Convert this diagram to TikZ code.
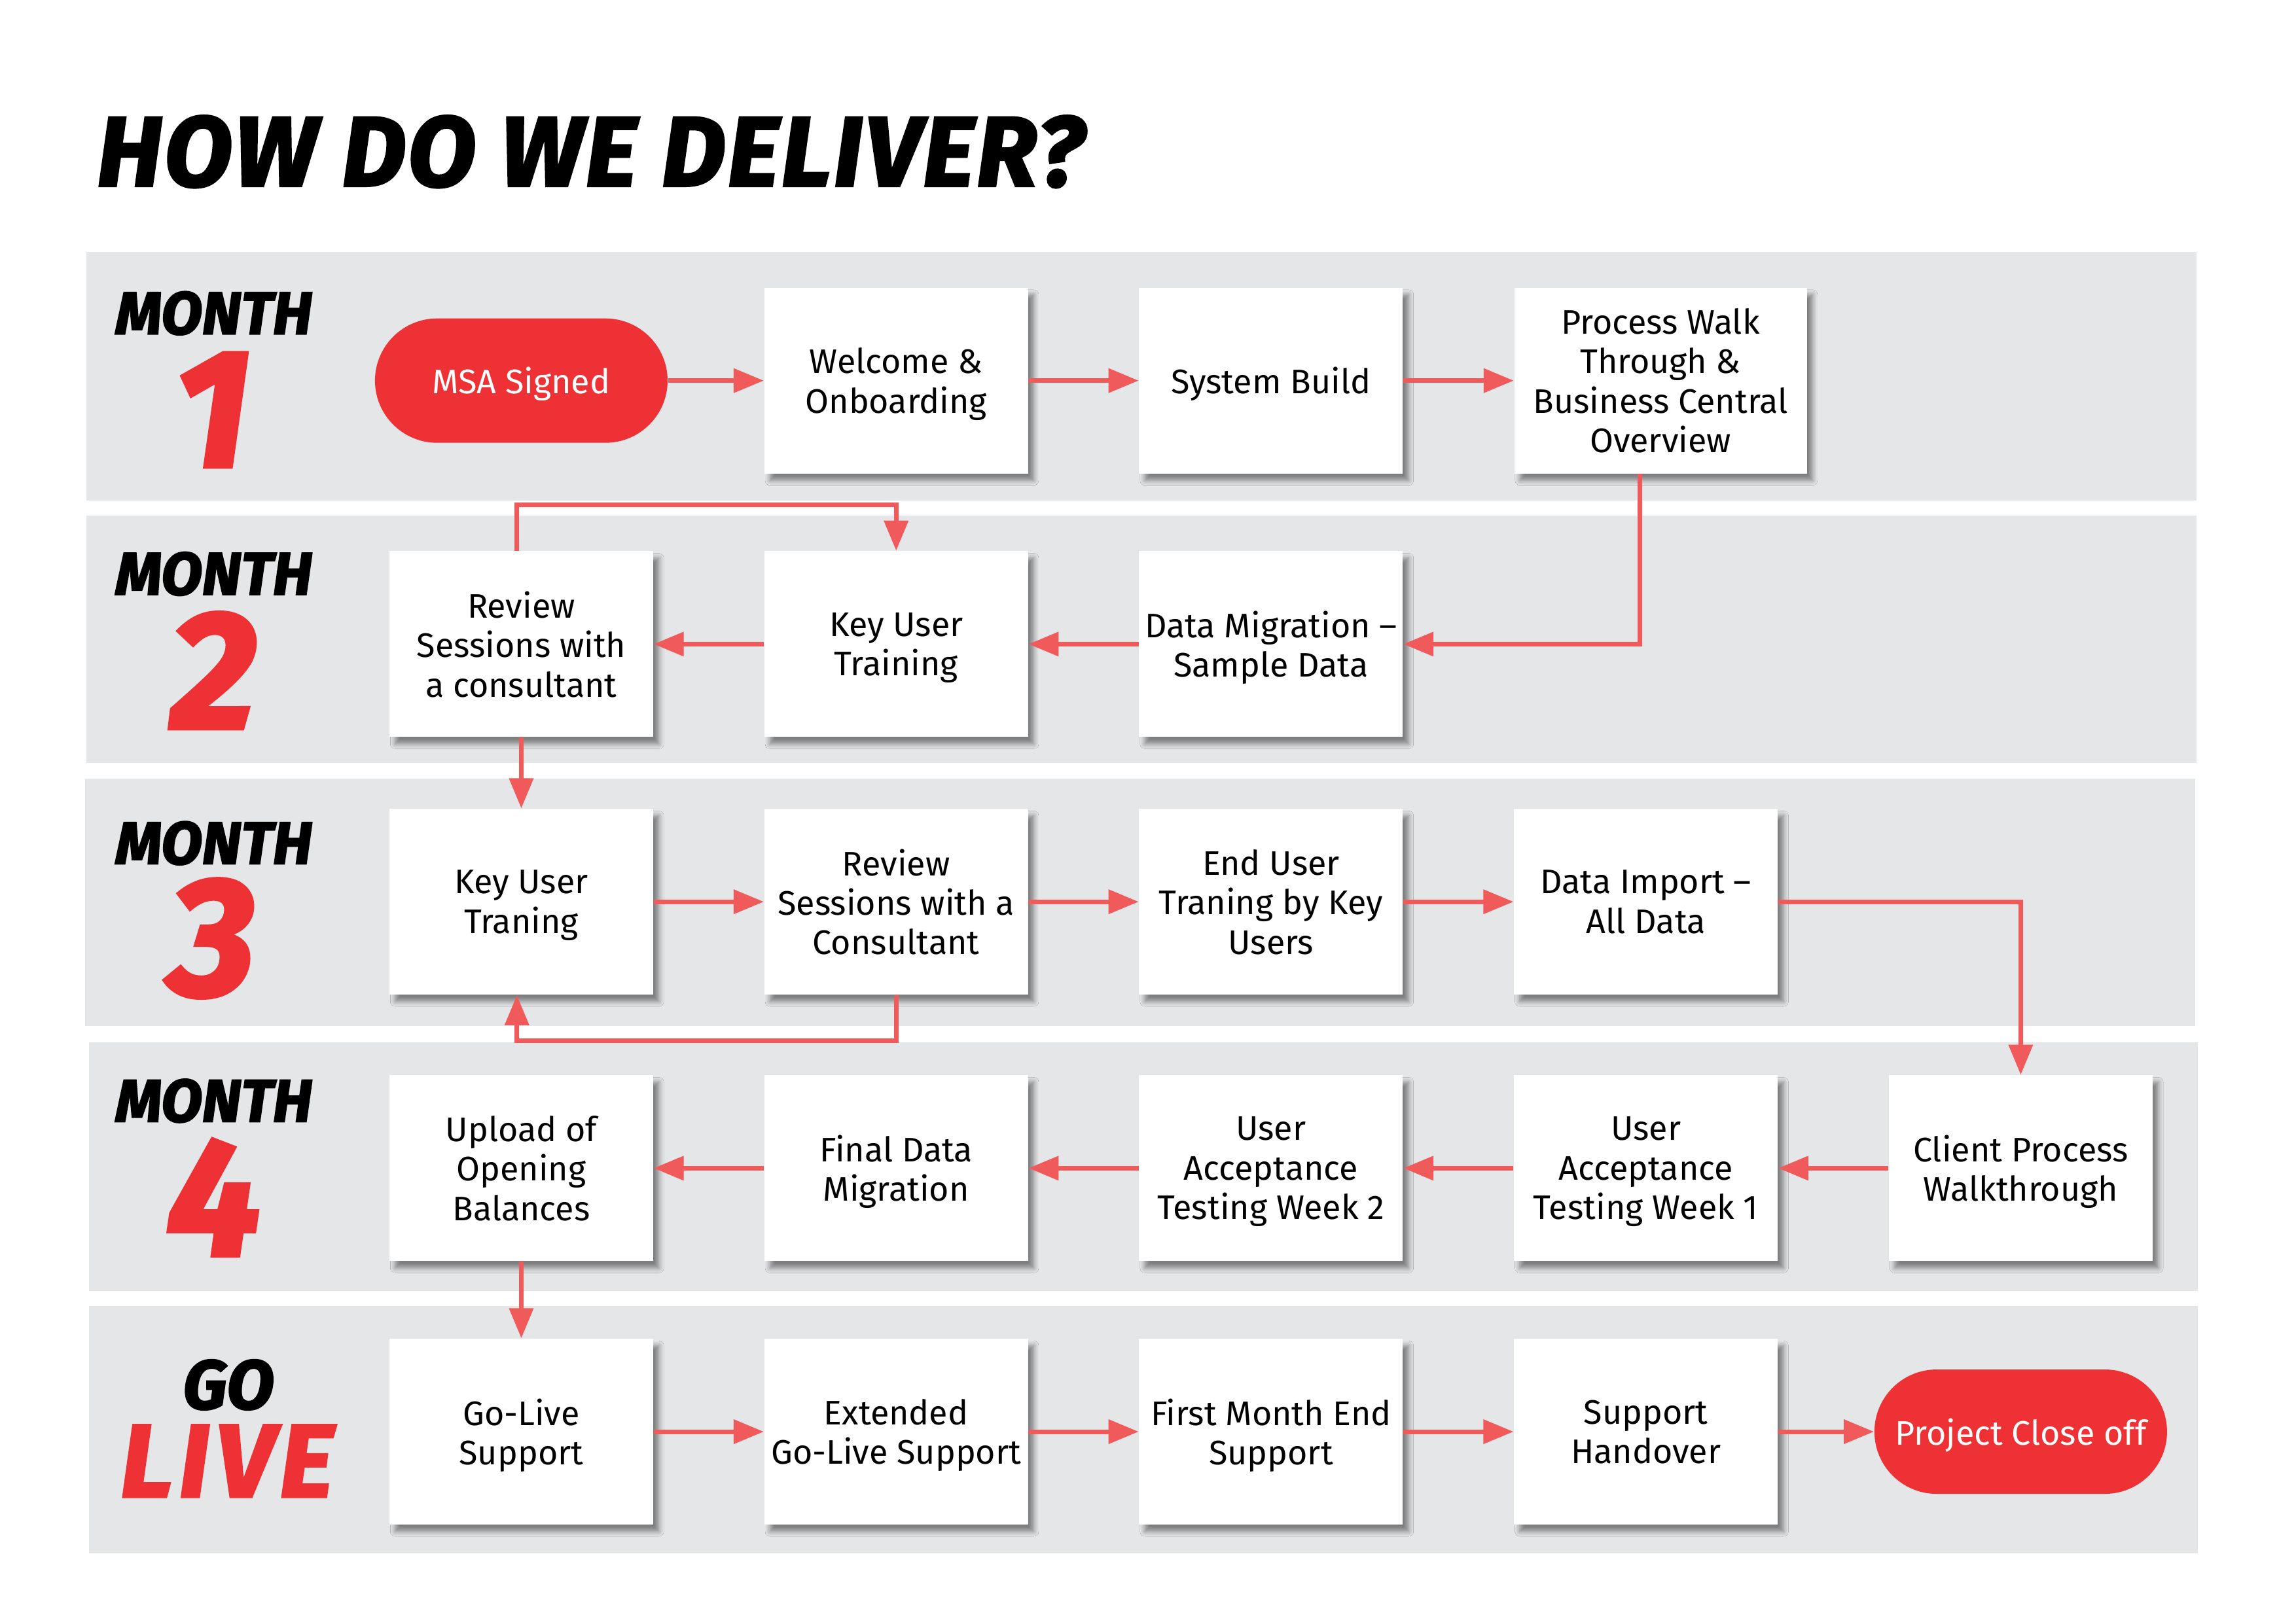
\documentclass[tikz,border=0pt]{standalone}
\usepackage{fontspec}
\setmainfont{Fira Sans}
\newfontfamily\heavyfont{Fira Sans}[BoldItalicFeatures={FakeBold=2.5}]
\usetikzlibrary{arrows.meta,shadows.blur,calc}
\definecolor{bandgray}{HTML}{E5E6E8}
\definecolor{brandred}{HTML}{EE3134}
\definecolor{linkred}{HTML}{F15A5A}
\tikzset{
  band/.style={fill=bandgray},
  task/.style={fill=white, minimum width=4.03cm, minimum height=2.84cm, align=center,
    inner sep=2pt, text depth=-6pt, font=\fontsize{14.8}{17.2}\selectfont,
    blur shadow={shadow xshift=2.5pt, shadow yshift=-3pt, shadow blur steps=6, shadow opacity=45}},
  terminal/.style={fill=brandred, text=white, rounded corners=0.95cm, minimum width=4.47cm,
    minimum height=1.9cm, text depth=-5pt, font=\fontsize{14.8}{17.2}\selectfont},
  link/.style={draw=linkred, line width=2pt, -{Triangle[length=0.46cm, width=0.36cm]}},
  monthlbl/.style={font=\heavyfont\bfseries\itshape\fontsize{26}{26}\selectfont},
  monthnum/.style={text=brandred, font=\heavyfont\bfseries\itshape\fontsize{73}{73}\selectfont}
}
\begin{document}
\begin{tikzpicture}[x=0.022372cm, y=-0.022372cm]
    \useasboundingbox (0,0) rectangle (1568,1109);
    % Title
    \node[anchor=base west, inner sep=0pt, font=\heavyfont\bfseries\itshape\fontsize{43}{43}\selectfont\addfontfeature{LetterSpace=2.5}] (title) at (66,127) {HOW DO WE DELIVER?};
    % Bands
    \fill[band] (59,172) rectangle (1500,342);
    \fill[band] (59,352) rectangle (1500,521);
    \fill[band] (58,532) rectangle (1499,701);
    \fill[band] (61,712) rectangle (1501,882);
    \fill[band] (61,892) rectangle (1501,1061);
    % Month labels
    \node[monthlbl] (m1) at (146,214) {MONTH};
    \node[monthnum] (n1) at (145,280) {1};
    \node[monthlbl] (m2) at (146,392) {MONTH};
    \node[monthnum] (n2) at (146,458) {2};
    \node[monthlbl] (m3) at (146,576) {MONTH};
    \node[monthnum] (n3) at (145,641) {3};
    \node[monthlbl] (m4) at (146,752) {MONTH};
    \node[monthnum] (n4) at (146,818) {4};
    \node[font=\heavyfont\bfseries\itshape\fontsize{30}{30}\selectfont] (go) at (156,946) {GO};
    \node[text=brandred, font=\heavyfont\bfseries\itshape\fontsize{45}{45}\selectfont\addfontfeature{LetterSpace=6}] (live) at (155,998) {LIVE};
    % Month 1
    \node[terminal] (msa) at (356,260) {MSA Signed};
    \node[task] (welcome) at (612,260) {Welcome \&\\Onboarding};
    \node[task] (build) at (868,260) {System Build};
    \node[task, minimum width=4.47cm] (walk) at (1134,260) {Process Walk\\Through \&\\Business Central\\Overview};
    % Month 2
    \node[task] (review2) at (356,440) {Review\\Sessions with\\a consultant};
    \node[task] (keytrain) at (612,440) {Key User\\Training};
    \node[task] (sample) at (868,440) {Data Migration –\\Sample Data};
    % Month 3
    \node[task] (keytrain3) at (356,616) {Key User\\Traning};
    \node[task] (review3) at (612,616) {Review\\Sessions with a\\Consultant};
    \node[task] (enduser) at (868,616) {End User\\Traning by Key\\Users};
    \node[task] (import) at (1124,616) {Data Import –\\All Data};
    % Month 4
    \node[task] (upload) at (356,798) {Upload of\\Opening\\Balances};
    \node[task] (final) at (612,798) {Final Data\\Migration};
    \node[task] (uat2) at (868,798) {User\\Acceptance\\Testing Week 2};
    \node[task] (uat1) at (1124,798) {User\\Acceptance\\Testing Week 1};
    \node[task] (client) at (1380,798) {Client Process\\Walkthrough};
    % Go live
    \node[task] (golive) at (356,978) {Go-Live\\Support};
    \node[task] (extended) at (612,978) {Extended\\Go-Live Support};
    \node[task] (monthend) at (868,978) {First Month End\\Support};
    \node[task] (handover) at (1124,978) {Support\\Handover};
    \node[terminal] (close) at (1380,978) {Project Close off};
    % Connectors
    \coordinate (loopa) at (612,345);
    \coordinate (loopb) at (353,711);
    \draw[link] (msa) -- (welcome);
    \draw[link] (welcome) -- (build);
    \draw[link] (build) -- (walk);
    \draw[link] ($(walk.south)+(-14,0)$) |- (sample.east);
    \draw[link] (sample) -- (keytrain);
    \draw[link] (keytrain) -- (review2);
    \draw[link] ([xshift=-0.07cm]review2.north) |- (loopa) -- (keytrain.north);
    \draw[link] (review2) -- (keytrain3);
    \draw[link] (keytrain3) -- (review3);
    \draw[link] (review3) -- (enduser);
    \draw[link] (enduser) -- (import);
    \draw[link] (review3.south) |- (loopb) -- (loopb |- keytrain3.south);
    \draw[link] (import.east) -| (client.north);
    \draw[link] (client) -- (uat1);
    \draw[link] (uat1) -- (uat2);
    \draw[link] (uat2) -- (final);
    \draw[link] (final) -- (upload);
    \draw[link] (upload) -- (golive);
    \draw[link] (golive) -- (extended);
    \draw[link] (extended) -- (monthend);
    \draw[link] (monthend) -- (handover);
    \draw[link] (handover) -- (close);
\end{tikzpicture}
\end{document}
